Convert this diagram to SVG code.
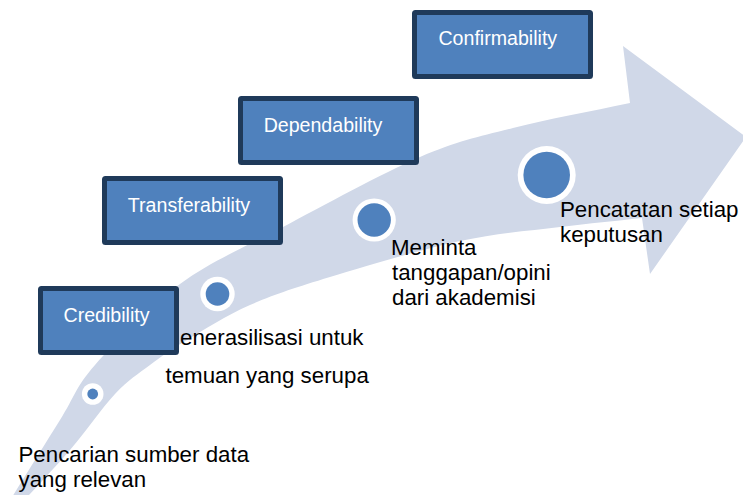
<svg xmlns="http://www.w3.org/2000/svg" width="743" height="495" viewBox="0 0 743 495">
  <style>
    .box { fill: #4F81BD; stroke: #1F3A5A; stroke-width: 5; stroke-linejoin: round; }
    .boxtext { font-family: "Liberation Sans", Arial, sans-serif; font-size: 19.6px; fill: #FFFFFF; text-anchor: middle; }
    .label { font-family: "Liberation Sans", Arial, sans-serif; font-size: 22.3px; fill: #000000; }
    .ring { fill: #FFFFFF; }
    .dot { fill: #4F81BD; }
  </style>
  <rect width="743" height="495" fill="#FFFFFF"/>
  <g id="arrow">
    <path fill="#D0D8E8" d="M 4,510 C 22.7,480 44.8,444.2 60,420 C 75.2,395.8 75,387.7 95,365 C 115,342.3 148.7,307 180,284 C 211.3,261 243,248.2 283,227 C 323,205.8 381.7,173.5 420,157 C 458.3,140.5 478,137 513,128 C 548,119 591,111.3 630,103 L 623,46 L 746,137 L 650,274 L 642,218 C 614.7,221 590.3,223.2 560,227 C 529.7,230.8 498.3,232.7 460,241 C 421.7,249.3 365,266.3 330,277 C 295,287.7 273.8,294.5 250,305 C 226.2,315.5 203.7,330 187,340 C 170.3,350 162,356 150,365 C 138,374 128.3,379.8 115,394 C 101.7,408.2 86.3,431 70,450 C 53.7,469 34.7,488.7 17,508 Z"/>
  </g>
  <g id="labels">
    <text class="label" x="18.5" y="462">Pencarian sumber data</text>
    <text class="label" x="18.5" y="487">yang relevan</text>
    <text class="label" x="180" y="345">enerasilisasi untuk</text>
    <text class="label" x="165.5" y="383">temuan yang serupa</text>
    <text class="label" x="391" y="255">Meminta</text>
    <text class="label" x="392" y="280">tanggapan/opini</text>
    <text class="label" x="392" y="305">dari akademisi</text>
    <text class="label" x="560" y="217">Pencatatan setiap</text>
    <text class="label" x="560" y="242">keputusan</text>
  </g>
  <g id="dot1">
    <circle class="ring" cx="92.7" cy="394" r="10.8"/>
    <circle class="dot" cx="92.7" cy="394" r="5.4"/>
  </g>
  <g id="dot2">
    <circle class="ring" cx="217.5" cy="294" r="17.2"/>
    <circle class="dot" cx="217.5" cy="294" r="11.8"/>
  </g>
  <g id="dot3">
    <circle class="ring" cx="374.2" cy="220" r="21.6"/>
    <circle class="dot" cx="374.2" cy="220" r="16.7"/>
  </g>
  <g id="dot4">
    <circle class="ring" cx="546.7" cy="175" r="29"/>
    <circle class="dot" cx="546.7" cy="175" r="23.3"/>
  </g>
  <g id="credibility">
    <rect class="box" x="40.5" y="288.5" width="136" height="64" rx="1"/>
    <text class="boxtext" x="106.5" y="322">Credibility</text>
  </g>
  <g id="transferability">
    <rect class="box" x="104.5" y="178.5" width="176" height="64" rx="1"/>
    <text class="boxtext" x="189" y="212">Transferability</text>
  </g>
  <g id="dependability">
    <rect class="box" x="240.5" y="98.5" width="176" height="64" rx="1"/>
    <text class="boxtext" x="323" y="132">Dependability</text>
  </g>
  <g id="confirmability">
    <rect class="box" x="414.5" y="12.5" width="176" height="64" rx="1"/>
    <text class="boxtext" x="497.8" y="45">Confirmability</text>
  </g>
  <g id="connectors"></g>
</svg>
